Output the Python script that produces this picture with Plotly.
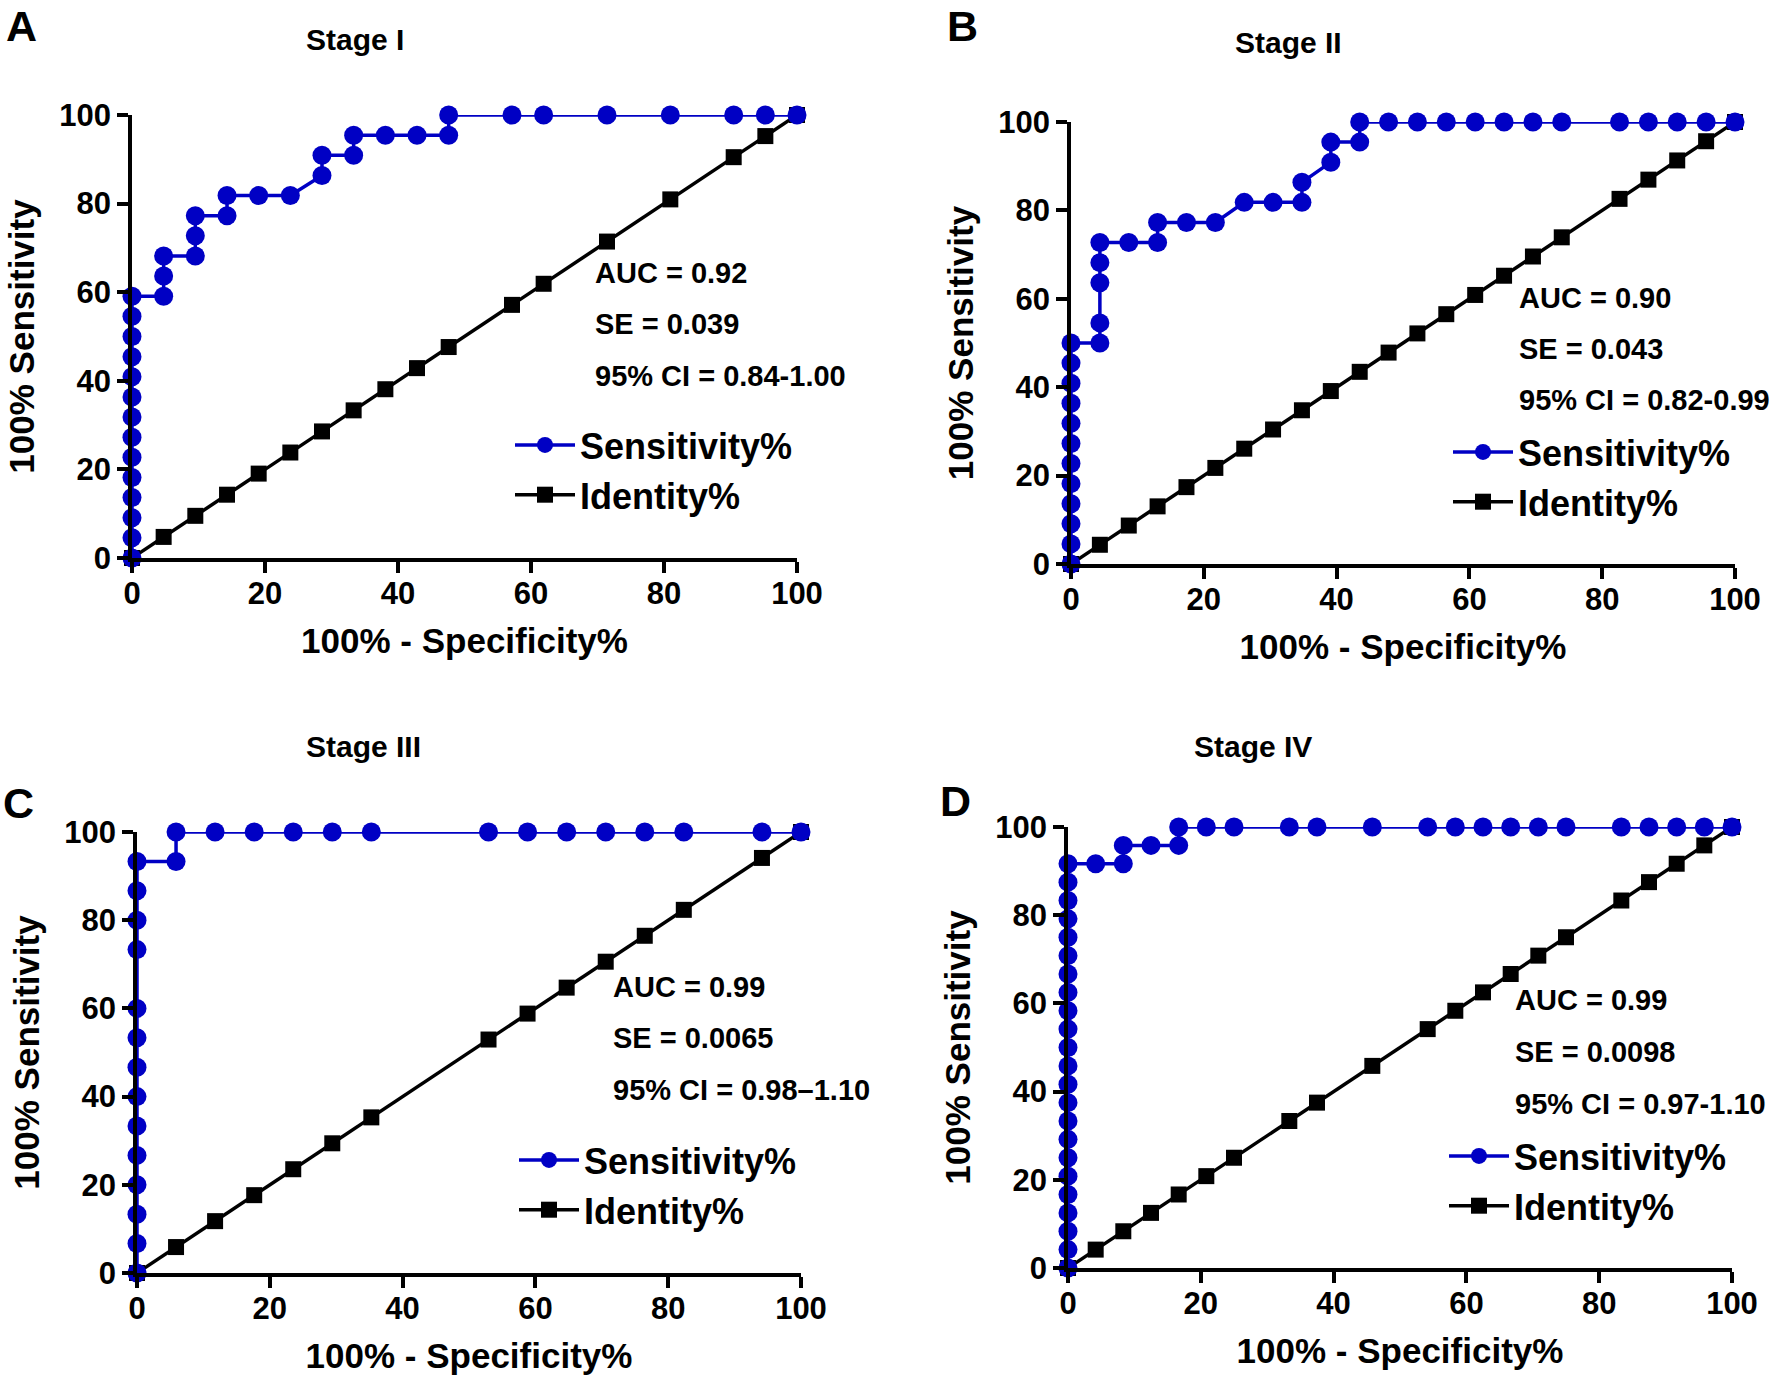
import plotly.graph_objects as go

W, H = 1770, 1383

# ---------------- data ----------------
panel_labels = ["A", "B", "C", "D"]
stage_titles = ["Stage I", "Stage II", "Stage III", "Stage IV"]
x_ticks = [0, 20, 40, 60, 80, 100]
y_ticks = [0, 20, 40, 60, 80, 100]

A_fpr = [0, 0, 0, 0, 0, 0, 0, 0, 0, 0, 0, 0, 0, 0,
         4.76, 4.76, 4.76, 9.52, 9.52, 9.52, 14.29, 14.29, 19.05, 23.81,
         28.57, 28.57, 33.33, 33.33, 38.10, 42.86, 47.62, 47.62,
         57.14, 61.90, 71.43, 80.95, 90.48, 95.24, 100]
A_sens = [0, 4.55, 9.09, 13.64, 18.18, 22.73, 27.27, 31.82, 36.36, 40.91, 45.45, 50.00, 54.55, 59.09,
          59.09, 63.64, 68.18, 68.18, 72.73, 77.27, 77.27, 81.82, 81.82, 81.82,
          86.36, 90.91, 90.91, 95.45, 95.45, 95.45, 95.45, 100,
          100, 100, 100, 100, 100, 100, 100]
A_identity = [0, 4.76, 9.52, 14.29, 19.05, 23.81, 28.57, 33.33, 38.10, 42.86, 47.62,
              57.14, 61.90, 71.43, 80.95, 90.48, 95.24, 100]

B_fpr = [0, 0, 0, 0, 0, 0, 0, 0, 0, 0, 0, 0,
         4.35, 4.35, 4.35, 4.35, 4.35, 8.70, 13.04, 13.04, 17.39, 21.74,
         26.09, 30.43, 34.78, 34.78, 39.13, 39.13, 43.48, 43.48,
         47.83, 52.17, 56.52, 60.87, 65.22, 69.57, 73.91, 82.61, 86.96, 91.30, 95.65, 100]
B_sens = [0, 4.55, 9.09, 13.64, 18.18, 22.73, 27.27, 31.82, 36.36, 40.91, 45.45, 50.00,
          50.00, 54.55, 63.64, 68.18, 72.73, 72.73, 72.73, 77.27, 77.27, 77.27,
          81.82, 81.82, 81.82, 86.36, 90.91, 95.45, 95.45, 100,
          100, 100, 100, 100, 100, 100, 100, 100, 100, 100, 100, 100]
B_identity = [0, 4.35, 8.70, 13.04, 17.39, 21.74, 26.09, 30.43, 34.78, 39.13, 43.48,
              47.83, 52.17, 56.52, 60.87, 65.22, 69.57, 73.91, 82.61, 86.96, 91.30, 95.65, 100]

C_fpr = [0, 0, 0, 0, 0, 0, 0, 0, 0, 0, 0, 0, 0, 0,
         5.88, 5.88, 11.76, 17.65, 23.53, 29.41, 35.29, 52.94, 58.82, 64.71,
         70.59, 76.47, 82.35, 94.12, 100]
C_sens = [0, 6.67, 13.33, 20.00, 26.67, 33.33, 40.00, 46.67, 53.33, 60.00, 73.33, 80.00, 86.67, 93.33,
          93.33, 100, 100, 100, 100, 100, 100, 100, 100, 100,
          100, 100, 100, 100, 100]
C_identity = [0, 5.88, 11.76, 17.65, 23.53, 29.41, 35.29, 52.94, 58.82, 64.71,
              70.59, 76.47, 82.35, 94.12, 100]

D_fpr = [0, 0, 0, 0, 0, 0, 0, 0, 0, 0, 0, 0, 0, 0, 0, 0, 0, 0, 0, 0, 0, 0, 0,
         4.17, 8.33, 8.33, 12.50, 16.67, 16.67,
         20.83, 25.00, 33.33, 37.50, 45.83, 54.17, 58.33, 62.50, 66.67, 70.83, 75.00,
         83.33, 87.50, 91.67, 95.83, 100]
D_sens = [0, 4.17, 8.33, 12.50, 16.67, 20.83, 25.00, 29.17, 33.33, 37.50, 41.67, 45.83,
          50.00, 54.17, 58.33, 62.50, 66.67, 70.83, 75.00, 79.17, 83.33, 87.50, 91.67,
          91.67, 91.67, 95.83, 95.83, 95.83, 100,
          100, 100, 100, 100, 100, 100, 100, 100, 100, 100, 100,
          100, 100, 100, 100, 100]
D_identity = [0, 4.17, 8.33, 12.50, 16.67, 20.83, 25.00, 33.33, 37.50, 45.83, 54.17, 58.33,
              62.50, 66.67, 70.83, 75.00, 83.33, 87.50, 91.67, 95.83, 100]

auc_text = ["AUC = 0.92", "AUC = 0.90", "AUC = 0.99", "AUC = 0.99"]
se_text = ["SE = 0.039", "SE = 0.043", "SE = 0.0065", "SE = 0.0098"]
ci_text = ["95% CI = 0.84-1.00", "95% CI = 0.82-0.99", "95% CI = 0.98\u20131.10", "95% CI = 0.97-1.10"]

fprs = [A_fpr, B_fpr, C_fpr, D_fpr]
senss = [A_sens, B_sens, C_sens, D_sens]
identities = [A_identity, B_identity, C_identity, D_identity]

# ---------------- layout geometry (pixels in the 1770x1383 canvas) ----------------
boxes = [(132, 797, 115, 558), (1071, 1735, 122, 564), (137, 801, 832, 1273), (1068, 1732, 827, 1268)]
stat_pos = [(593, [273, 324, 376]), (1517, [298, 349, 400]), (611, [987, 1038, 1090]), (1513, [1000, 1052, 1104])]
title_pos = [(355, 40), (1288, 42), (363, 747), (1253, 747)]
# (x centre, y, anchor)
letter_pos = [(21, 0, "top"), (962, 0, "top"), (18, 803, "middle"), (955, 801, "middle")]
legend_pos = [(512, 445), (1450, 452), (516, 1160), (1446, 1156)]

FONT = "Liberation Sans, Arial, Helvetica, sans-serif"
BLUE = "#0000C4"

fig = go.Figure()
layout = dict(
    width=W, height=H,
    margin=dict(l=0, r=0, t=0, b=0, pad=0, autoexpand=False),
    paper_bgcolor="white", plot_bgcolor="white",
    font=dict(family=FONT, color="black"),
    annotations=[],
)

legend_names = ["legend", "legend2", "legend3", "legend4"]
for i in range(4):
    l, r, t, b = boxes[i]
    xa = "xaxis" if i == 0 else f"xaxis{i+1}"
    ya = "yaxis" if i == 0 else f"yaxis{i+1}"
    xref = "x" if i == 0 else f"x{i+1}"
    yref = "y" if i == 0 else f"y{i+1}"
    common = dict(
        range=[0, 100], showgrid=False, zeroline=False, automargin=False,
        showline=True, linecolor="black", linewidth=3.5,
        ticks="outside", ticklen=11, tickwidth=3.5, tickcolor="black",
        tickfont=dict(family=FONT, size=31, color="black", weight="bold"),
        fixedrange=True,
    )
    layout[xa] = dict(common, domain=[l / W, r / W], anchor=yref, tickvals=x_ticks,
                      ticklabelstandoff=-6,
                      title=dict(text="100% - Specificity%", standoff=20,
                                 font=dict(family=FONT, size=35, weight="bold")))
    layout[ya] = dict(common, domain=[1 - b / H, 1 - t / H], anchor=xref, tickvals=y_ticks,
                      title=dict(text="100% Sensitivity", standoff=15,
                                 font=dict(family=FONT, size=35, weight="bold")))

    fig.add_trace(go.Scatter(
        x=identities[i], y=identities[i], mode="lines+markers", name="Identity%",
        line=dict(color="black", width=3.5),
        marker=dict(symbol="square", size=16, color="black"),
        xaxis=xref, yaxis=yref, legend=legend_names[i], legendrank=2, cliponaxis=False,
    ))
    fig.add_trace(go.Scatter(
        x=fprs[i], y=senss[i], mode="lines+markers", name="Sensitivity%",
        line=dict(color=BLUE, width=3.5),
        marker=dict(symbol="circle", size=19, color=BLUE),
        xaxis=xref, yaxis=yref, legend=legend_names[i], legendrank=1, cliponaxis=False,
    ))

    lx, ly = legend_pos[i]
    layout[legend_names[i]] = dict(
        x=(lx - 2) / W, y=1 - (ly - 30) / H, xanchor="left", yanchor="top",
        bgcolor="rgba(0,0,0,0)", borderwidth=0, itemwidth=60,
        font=dict(family=FONT, size=36, color="black", weight="bold"),
        tracegroupgap=0,
    )

    sx, sys_ = stat_pos[i]
    for txt, yc in zip([auc_text[i], se_text[i], ci_text[i]], sys_):
        layout["annotations"].append(dict(
            text=txt, x=sx / W, y=1 - yc / H, xref="paper", yref="paper",
            xanchor="left", yanchor="middle", showarrow=False,
            font=dict(family=FONT, size=29, color="black", weight="bold"),
        ))
    tx, ty = title_pos[i]
    layout["annotations"].append(dict(
        text=stage_titles[i], x=tx / W, y=1 - ty / H, xref="paper", yref="paper",
        xanchor="center", yanchor="middle", showarrow=False,
        font=dict(family=FONT, size=30, color="black", weight="bold"),
    ))
    px_, py_, anc = letter_pos[i]
    layout["annotations"].append(dict(
        text=panel_labels[i], x=px_ / W, y=1 - py_ / H, xref="paper", yref="paper",
        xanchor="center", yanchor=anc, showarrow=False,
        font=dict(family=FONT, size=43, color="black", weight="bold"),
    ))

fig.update_layout(**layout)
fig.write_html("out.html", config={"displayModeBar": False},
               post_script="document.body.style.margin='0px';")
